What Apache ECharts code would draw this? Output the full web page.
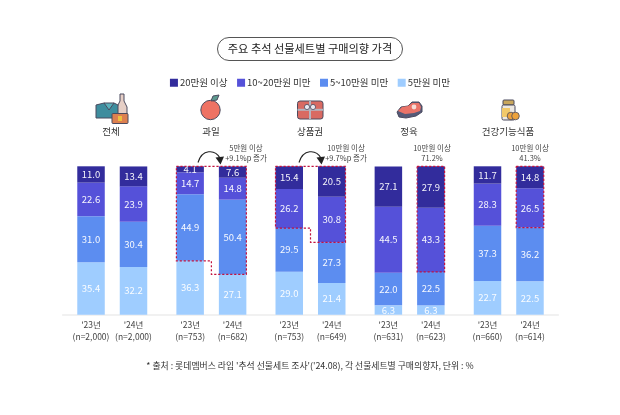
<!DOCTYPE html>
<html><head><meta charset="utf-8">
<style>html,body{margin:0;padding:0;background:#fff}#c{width:620px;height:415px}</style>
<script src="https://cdn.jsdelivr.net/npm/echarts@6/dist/echarts.min.js"></script>
</head><body><div id="c"></div>
<script>
const barLabels = ["'23년\n(n=2,000)","'24년\n(n=2,000)","'23년\n(n=753)","'24년\n(n=682)","'23년\n(n=753)","'24년\n(n=649)","'23년\n(n=631)","'24년\n(n=623)","'23년\n(n=660)","'24년\n(n=614)"];
const seriesNames = ['20만원 이상','10~20만원 미만','5~10만원 미만','5만원 미만'];
const over20  = [11.0,13.4,4.1,7.6,15.4,20.5,27.1,27.9,11.7,14.8];
const m10to20 = [22.6,23.9,14.7,14.8,26.2,30.8,44.5,43.3,28.3,26.5];
const m5to10  = [31.0,30.4,44.9,50.4,29.5,27.3,22.0,22.5,37.3,36.2];
const under5  = [35.4,32.2,36.3,27.1,29.0,21.4,6.3,6.3,22.7,22.5];
const groupNames = ['전체','과일','상품권','정육','건강기능식품'];
// dashed highlight regions: first bar, last bar, share covered in first bar, share covered in last bar
const hlFirstBar = [2,4,7,9];
const hlLastBar  = [3,5,7,9];
const hlFirstShare = [63.7,41.6,71.2,41.3];
const hlLastShare  = [72.8,51.3,71.2,41.3];

const colors = ['#322c9c','#5551d9','#5c8df0','#9fcdff'];
const values = [over20,m10to20,m5to10,under5];
const FONT = '"Noto Sans CJK KR","Noto Sans",sans-serif';
const BW = 27.5;

// slot layout on the category axis: 2 lead slots, then pairs 3 apart, pairs separated by 4
const slotOfBar = []; let s = 2;
barLabels.forEach((_, i) => { slotOfBar.push(s); s += (i % 2 === 0) ? 3 : 4; });
const SLOT_COUNT = 36;
const slotCats = Array.from({length:SLOT_COUNT},()=> '');
barLabels.forEach((l,i)=>{ slotCats[slotOfBar[i]] = l; });
const toSlots = arr => { const o = Array(SLOT_COUNT).fill(null); arr.forEach((v,i)=>{ o[slotOfBar[i]] = v; }); return o; };

const barSeries = seriesNames.map((n,i)=>({ n, i })).reverse().map(({n,i}) => ({
  name:n, type:'bar', stack:'t', barWidth:BW, itemStyle:{color:colors[i]},
  data:toSlots(values[i]), z:2, animation:false,
  label:{show:true, position:'inside', color:'rgba(255,255,255,0.95)', fontSize:9.5, fontFamily:FONT,
    formatter:p=> p.value==null?'':p.value.toFixed(1)}
}));

const hlData = hlFirstBar.map((b,i)=>[slotOfBar[b],slotOfBar[hlLastBar[i]],hlFirstShare[i],hlLastShare[i]]);
const hlSeries = {
  type:'custom', data:hlData, z:5, silent:true, animation:false, clip:false,
  encode:{x:[0,1],y:[2,3]},
  renderItem:(params,api)=>{
    const a=api.value(0), b=api.value(1), la=api.value(2), lb=api.value(3);
    const xa=api.coord([a,0])[0]-BW/2, xb=api.coord([b,0])[0]+BW/2;
    const top=api.coord([a,100])[1], ya=api.coord([a,100-la])[1], yb=api.coord([b,100-lb])[1];
    const pts = a===b
      ? [[xa,top],[xb,top],[xb,yb],[xa,yb],[xa,top]]
      : (()=>{const xm=(api.coord([a,0])[0]+api.coord([b,0])[0])/2;
          return [[xa,top],[xb,top],[xb,yb],[xm,yb],[xm,ya],[xa,ya],[xa,top]];})();
    return {type:'polyline',shape:{points:pts},
      style:{stroke:'#c2123f',lineWidth:1.2,lineDash:[2.2,1.8],fill:null}};
  }
};

const txt=(x,y,t,size,color,extra)=>({type:'text',x,y,z:20,silent:true,
  style:Object.assign({text:t,font:`${size}px ${FONT}`,fill:color||'#444',textAlign:'center',textVerticalAlign:'middle',lineHeight:size+2.8},extra||{})});
const rect=(x,y,w,h,fill,r,stroke)=>({type:'rect',z:20,silent:true,shape:{x,y,width:w,height:h,r:r||0},style:{fill,stroke:stroke||null,lineWidth:stroke?1:0}});
const poly=(pts,fill,stroke)=>({type:'polygon',z:20,silent:true,shape:{points:pts},style:{fill,stroke:stroke||null,lineWidth:stroke?1:0}});
const arrow=(x1,x2)=>[
  {type:'bezierCurve',z:20,silent:true,shape:{x1,y1:162.5,cpx1:x1+4,cpy1:149,cpx2:x2-6,cpy2:149,x2:x2-1,y2:158},style:{stroke:'#222',lineWidth:1.1,fill:null}},
  poly([[x2-5.5,157.5],[x2+3,156.5],[x2-0.5,164.5]],'#222')
];
const dk='#4b4a5e';
const icons=[
  // all: bottle, shirt box, gift
  poly([[120,94],[124,94],[124,101],[127,107],[127,115],[117,115],[117,107],[120,101]],'#e6cfc6',dk),
  poly([[96,105],[104,103],[109,106],[114,103],[118,105],[118,118],[96,118]],'#3e8d9e',dk),
  poly([[104,103],[109,110],[114,103]],'#5bb0bb',dk),
  rect(112,113.5,16,10,'#dd8050',1,dk),
  rect(118,116,4,5,'#f0c040',0),
  // apple
  {type:'circle',z:20,silent:true,shape:{cx:210.5,cy:110,r:9.7},style:{fill:'#ee7264',stroke:dk,lineWidth:1}},
  poly([[211,101],[213,96],[219,95],[217,100]],'#5d9a8f',dk),
  // gift card
  rect(297.5,101,25.5,18,'#d96a62',2.5,dk),
  rect(297.5,108.8,25.5,2,'#b5b5c0',0),
  rect(309,101,2,18,'#b5b5c0',0),
  {type:'circle',z:20,silent:true,shape:{cx:307,cy:107,r:2.6},style:{fill:'#e9e9f0',stroke:dk,lineWidth:0.8}},
  {type:'circle',z:20,silent:true,shape:{cx:313,cy:107,r:2.6},style:{fill:'#e9e9f0',stroke:dk,lineWidth:0.8}},
  // meat
  poly([[397,112],[401,107],[408,106],[412,102],[419,102],[422,106],[422,112],[416,116],[406,118],[399,117]],'#555a78',dk),
  poly([[398,111],[402,107],[408,106],[412,103],[419,103],[421,107],[420,111],[414,113],[405,114]],'#ea7368'),
  {type:'circle',z:20,silent:true,shape:{cx:414,cy:107,r:2.4},style:{fill:'#f6dcd6'}},
  // supplements
  rect(503,100,11,5,'#c9a75c',1,dk),
  rect(502,105,13,15,'#ece8e2',1.5,dk),
  rect(502,108,8,9,'#f2c96a',0),
  {type:'circle',z:20,silent:true,shape:{cx:511,cy:116,r:3.8},style:{fill:'#eda23c',stroke:dk,lineWidth:0.8}},
  {type:'circle',z:20,silent:true,shape:{cx:515.5,cy:116,r:3.8},style:{fill:'#eda23c',stroke:dk,lineWidth:0.8}}
];
const groupX=[111,211,310,409,508];
const graphics=[
  ...icons,
  ...groupNames.map((g,i)=>txt(groupX[i],131.5,g,9.5,'#333')),
  txt(246,153.5,'5만원 이상\n+9.1%p 증가',7.5,'#444'),
  txt(346,153.5,'10만원 이상\n+9.7%p 증가',7.5,'#444'),
  txt(432,153.5,'10만원 이상\n71.2%',7.5,'#444'),
  txt(530,153.5,'10만원 이상\n41.3%',7.5,'#444'),
  ...arrow(198,221),
  ...arrow(299,322),
  txt(310,366,"* 출처 : 롯데멤버스 라임 '추석 선물세트 조사'('24.08), 각 선물세트별 구매의향자, 단위 : %",8.85,'#333')
];

const chart=echarts.init(document.getElementById('c'),null,{renderer:'canvas'});
chart.setOption({
  animation:false, backgroundColor:'#fff',
  title:{text:'주요 추석 선물세트별 구매의향 가격',left:'center',top:37,padding:[5,11,5,11],
    borderColor:'#555',borderWidth:1,borderRadius:12,
    textStyle:{fontFamily:FONT,fontSize:11.2,fontWeight:400,color:'#222',lineHeight:14}},
  legend:{data:seriesNames,left:'center',top:73,itemWidth:8,itemHeight:8,itemGap:9.5,icon:'rect',selectedMode:false,
    textStyle:{fontFamily:FONT,fontSize:9.5,color:'#333',padding:[0,0,0,-3]}},
  grid:{left:62.7,right:61.7,top:166.3,bottom:100.3,containLabel:false},
  xAxis:{type:'category',data:slotCats,boundaryGap:false,
    axisLine:{lineStyle:{color:'#ededed',width:1.5}},axisTick:{show:false},
    axisLabel:{interval:0,color:'#444',fontFamily:FONT,fontSize:8.5,lineHeight:12,margin:4,hideOverlap:false,showMinLabel:true,showMaxLabel:true}},
  yAxis:{type:'value',min:0,max:100,show:false,splitLine:{show:false}},
  series:[...barSeries,hlSeries],
  graphic:graphics
});
</script></body></html>
